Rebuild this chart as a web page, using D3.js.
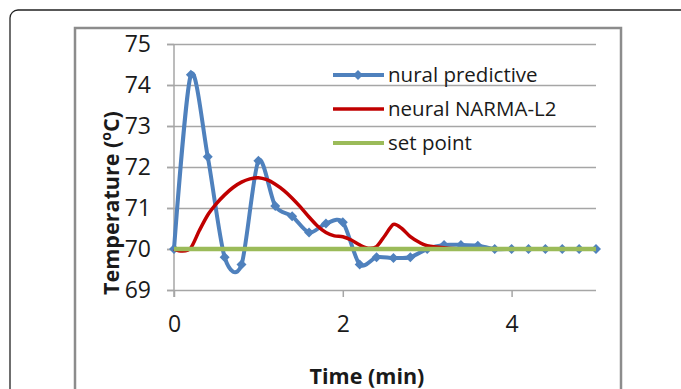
<!DOCTYPE html>
<html>
<head>
    <title>Temperature response</title>
    <script src="https://d3js.org/d3.v7.min.js"></script>
    <style>
        body {
            margin: 0;
            padding: 0;
            background-color: #ffffff;
        }
        text { font-family: "Open Sans", sans-serif; fill: #1a1a1a; }
    </style>
</head>
<body>
<div class="viz"></div>
<script>

    // tick values
    var timeTicks = [0, 2, 4];
    var tempTicks = [69, 70, 71, 72, 73, 74, 75];

    var seriesNames = ["nural predictive", "neural NARMA-L2", "set point"];

    // nural predictive (sampled every 0.2 min, with markers)
    var predTime = [0, 0.2, 0.4, 0.6, 0.8, 1.0, 1.2, 1.4, 1.6, 1.8, 2.0, 2.2, 2.4,
                    2.6, 2.8, 3.0, 3.2, 3.4, 3.6, 3.8, 4.0, 4.2, 4.4, 4.6, 4.8, 5.0];
    var predTemp = [70, 74.25, 72.25, 69.8, 69.62, 72.15, 71.05, 70.8, 70.4, 70.62, 70.65, 69.62, 69.8,
                    69.78, 69.8, 70.0, 70.1, 70.1, 70.08, 70.0, 70, 70, 70, 70, 70, 70];

    // neural NARMA-L2
    var narmaTime = [0, 0.1, 0.2, 0.3, 0.4, 0.5, 0.6, 0.7, 0.8, 0.9, 1.0, 1.1, 1.2, 1.3, 1.4, 1.5,
                     1.6, 1.7, 1.8, 1.9, 2.0, 2.1, 2.2, 2.3, 2.4, 2.5, 2.6, 2.7, 2.8, 2.9, 3.0, 3.2, 3.5, 5.0];
    var narmaTemp = [70, 69.95, 70.03, 70.45, 70.83, 71.1, 71.32, 71.5, 71.63, 71.71, 71.74, 71.69, 71.58, 71.43, 71.24, 71.02,
                     70.78, 70.56, 70.4, 70.32, 70.3, 70.22, 70.1, 70.02, 70.06, 70.33, 70.6, 70.5, 70.3, 70.17, 70.08, 70.03, 70.0, 70.0];

    // set point
    var setTime = [0, 5];
    var setTemp = [70, 70];

    var width = 681,
        height = 389;

    var colors = ["#4f81bd", "#c00000", "#9bbb59"];

    var svg = d3.select(".viz").append("svg")
        .attr("width", width)
        .attr("height", height);

    // frames
    svg.append("rect")
        .attr("x", 10).attr("y", 10)
        .attr("width", 700).attr("height", 420)
        .attr("rx", 8).attr("ry", 8)
        .attr("fill", "none")
        .attr("stroke", "#222")
        .attr("stroke-width", 1.3);

    svg.append("rect")
        .attr("x", 75).attr("y", 28)
        .attr("width", 546).attr("height", 400)
        .attr("fill", "none")
        .attr("stroke", "#8c8c8c")
        .attr("stroke-width", 2.5);

    var x = d3.scaleLinear().domain([0, 5]).range([174, 596]);
    var y = d3.scaleLinear().domain([69, 75]).range([290, 44]);

    // gridlines (start a bit left of the axis like tick marks)
    svg.append("g")
        .attr("class", "grid")
        .attr("transform", "translate(167,0)")
        .call(d3.axisRight(y).tickValues(tempTicks).tickSize(x(5) - 167).tickFormat(""))
        .call(function(g){
            g.select(".domain").remove();
            g.selectAll("line").attr("stroke", "#a6a6a6").attr("stroke-width", 1.5);
        });

    // y axis
    svg.append("g")
        .attr("transform", "translate(" + x(0) + ",0)")
        .call(d3.axisLeft(y).tickValues(tempTicks).tickSize(7).tickPadding(16).tickFormat(d3.format("d")))
        .call(function(g){
            g.select(".domain").remove();
            g.selectAll("line").attr("stroke", "#a6a6a6").attr("stroke-width", 1.5);
            g.selectAll("text").style("font-size", "23px").attr("fill", "#1a1a1a")
                .style("font-family", "Open Sans");
        });

    svg.append("line")
        .attr("x1", x(0)).attr("x2", x(0))
        .attr("y1", y(75)).attr("y2", y(69) + 7)
        .attr("stroke", "#a6a6a6")
        .attr("stroke-width", 1.5);

    // x axis
    svg.append("g")
        .attr("transform", "translate(0," + y(69) + ")")
        .call(d3.axisBottom(x).tickValues(timeTicks).tickSize(7).tickPadding(19).tickFormat(d3.format("d")))
        .call(function(g){
            g.select(".domain").remove();
            g.selectAll("line").attr("stroke", "#a6a6a6").attr("stroke-width", 1.5);
            g.selectAll("text").style("font-size", "23px").attr("fill", "#1a1a1a")
                .style("font-family", "Open Sans");
        });

    // axis titles
    svg.append("text")
        .text("Time (min)")
        .attr("x", 367)
        .attr("y", 384)
        .attr("text-anchor", "middle")
        .style("font-size", "21.5px")
        .style("font-weight", "bold");

    var ytitle = svg.append("text")
        .attr("transform", "translate(119,203) rotate(-90)")
        .attr("text-anchor", "middle")
        .style("font-size", "21.5px")
        .style("font-weight", "bold");
    ytitle.append("tspan").text("Temperature (");
    ytitle.append("tspan").text("o").attr("dy", -8).style("font-size", "14px");
    ytitle.append("tspan").text("C)").attr("dy", 8);

    // series
    var line = d3.line()
        .x(function(d){ return x(d[0]); })
        .y(function(d){ return y(d[1]); })
        .curve(d3.curveCardinal.tension(0.15));

    var predData = predTime.map(function(t, i){ return [t, predTemp[i]]; });
    var narmaData = narmaTime.map(function(t, i){ return [t, narmaTemp[i]]; });
    var setData = setTime.map(function(t, i){ return [t, setTemp[i]]; });

    var diamond = d3.symbol().type(d3.symbolSquare).size(50);

    svg.append("path")
        .attr("d", line(predData))
        .attr("fill", "none")
        .attr("stroke", colors[0])
        .attr("stroke-width", 4);

    svg.selectAll(".marker")
        .data(predData)
        .enter()
        .append("path")
        .attr("class", "marker")
        .attr("d", diamond)
        .attr("transform", function(d){
            return "translate(" + x(d[0]) + "," + y(d[1]) + ") rotate(45)";
        })
        .attr("fill", colors[0]);

    svg.append("path")
        .attr("d", line(narmaData))
        .attr("fill", "none")
        .attr("stroke", colors[1])
        .attr("stroke-width", 3.5);

    svg.append("path")
        .attr("d", line(setData))
        .attr("fill", "none")
        .attr("stroke", colors[2])
        .attr("stroke-width", 4.5);

    // legend
    var legend = svg.selectAll(".legend")
        .data(seriesNames)
        .enter()
        .append("g")
        .attr("class", "legend")
        .attr("transform", function(d, i){ return "translate(333," + (75 + i * 34) + ")"; });

    legend.append("line")
        .attr("x1", 0).attr("x2", 51)
        .attr("y1", 0).attr("y2", 0)
        .attr("stroke", function(d, i){ return colors[i]; })
        .attr("stroke-width", function(d, i){ return i == 1 ? 3.5 : 4; });

    legend.filter(function(d, i){ return i == 0; })
        .append("path")
        .attr("d", diamond)
        .attr("transform", "translate(25,0) rotate(45)")
        .attr("fill", colors[0]);

    legend.append("text")
        .text(function(d){ return d; })
        .attr("x", 55)
        .attr("y", 7)
        .style("font-size", "20.5px");

</script>
</body>
</html>
